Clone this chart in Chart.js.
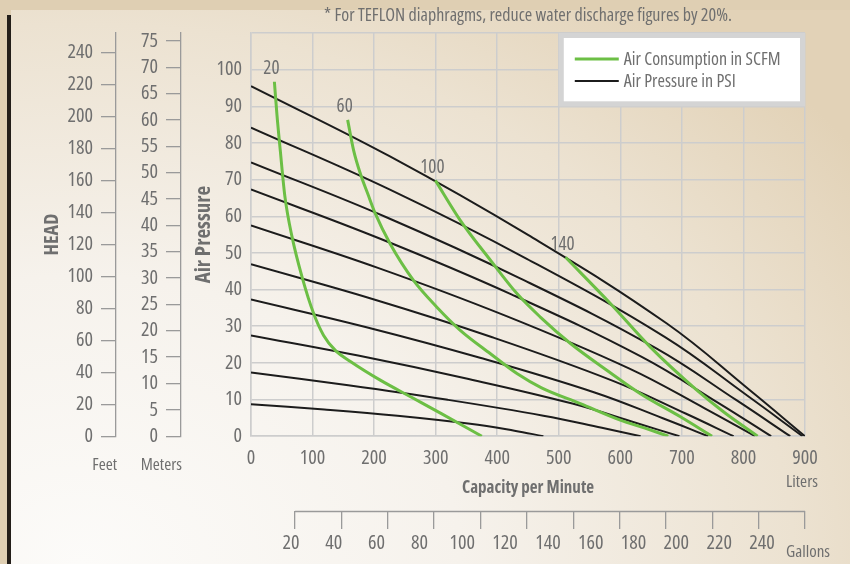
<!DOCTYPE html>
<html>
<head>
<meta charset="utf-8">
<script src="https://cdn.jsdelivr.net/npm/chart.js@4.4.1/dist/chart.umd.min.js"></script>
<style>
  html, body { margin: 0; padding: 0; }
  body { width: 850px; height: 564px; overflow: hidden; position: relative; background: #dfcfb3; }
  #panel {
    position: absolute; left: 11px; top: 10px; right: 0; bottom: 0;
    background: radial-gradient(950px 720px at 70px 554px, #fcfbf9 0%, #f6f2ec 40%, #ece2d1 75%, #e2d2b7 100%);
  }
  #bar { position: absolute; left: 7px; top: 15px; width: 4px; bottom: 0; background: #231e19; }
  canvas { position: absolute; left: 0; top: 0; }
</style>
</head>
<body>
<div id="panel"></div>
<div id="bar"></div>
<canvas id="pumpChart" width="850" height="564"></canvas>
<script>
// Air pressure lines: [liters per minute, psi]
const psi100 = [[0, 95.5], [225, 76.4], [450, 54.9], [675, 30.8], [810, 12.6], [900, 0]];
const psi90 = [[0, 84.2], [224, 67.4], [448, 48.4], [672, 27.1], [806, 11.1], [896, 0]];
const psi80 = [[0, 74.7], [219, 59.8], [438, 43.0], [657, 24.1], [788, 9.9], [876, 0]];
const psi70 = [[0, 67.3], [211, 53.8], [423, 38.7], [634, 21.7], [761, 8.9], [845, 0]];
const psi60 = [[0, 57.5], [205, 46.0], [410, 33.1], [614, 18.5], [737, 7.6], [819, 0]];
const psi50 = [[0, 46.9], [196, 37.5], [392, 27.0], [588, 15.1], [706, 6.2], [784, 0]];
const psi40 = [[0, 37.3], [186, 29.8], [372, 21.4], [557, 12.0], [669, 4.9], [743, 0]];
const psi30 = [[0, 27.5], [174, 22.0], [348, 15.8], [522, 8.9], [626, 3.6], [696, 0]];
const psi20 = [[0, 17.4], [158, 13.9], [317, 10.0], [475, 5.6], [570, 2.3], [633, 0]];
const psi10 = [[0, 8.7], [119, 7.3], [238, 5.6], [356, 3.4], [428, 1.5], [475, 0]];

// Air consumption curves (SCFM): [liters per minute, psi]
const scfm20 = [[38, 96.7], [42, 88], [47.6, 77.9], [55, 65.5], [66.8, 54.3], [83, 43.4], [101.9, 33.4],
  [118, 27.5], [137, 23.4], [161.5, 20.4], [210, 15.3], [260, 10.7], [310, 6.1], [375, 0]];
const scfm60 = [[157, 86.3], [166.8, 77.9], [177.7, 71.6], [190, 66], [202, 60.7], [226, 52.5], [264, 42.5],
  [302, 35.2], [340, 28.9], [389, 22.5], [432, 17.1], [472, 13.2], [535, 8.9], [600, 4.4], [640, 2.2], [678, 0]];
const scfm100 = [[299.5, 69.8], [340, 58.9], [389, 48], [432, 38.9], [470, 32.5], [519, 25.3], [578, 18],
  [632.6, 11.6], [697.6, 5.3], [749, 0]];
const scfm140 = [[511, 48.8], [583.8, 36.2], [648.8, 24.3], [724.7, 12.5], [768, 6.6], [823, 0]];
const scfmLabels = ['20', '60', '100', '140'];

// Tick values for the extra axes
const feetTicks = [0, 20, 40, 60, 80, 100, 120, 140, 160, 180, 200, 220, 240];
const meterTicks = [0, 5, 10, 15, 20, 25, 30, 35, 40, 45, 50, 55, 60, 65, 70, 75];
const gallonTicks = [20, 40, 60, 80, 100, 120, 140, 160, 180, 200, 220, 240];

const green = '#6cbf45';
const black = '#1c1c1c';
const gridColor = '#cdcdcd';
const axisGrey = '#9a9a9a';
const textGrey = '#6f6f6f';

// pick the narrowest-looking installed sans (the original uses a condensed face)
const probe = document.createElement('canvas').getContext('2d');
function measure(font) {
  probe.font = '10px monospace';
  probe.font = font;
  if (probe.font.indexOf('17px') < 0) return null;
  return probe.measureText('Air Consumption in SCFM').width;
}
const candidates = [
  ["'Liberation Sans Narrow'", ''],
  ["'Arial Narrow'", ''],
  ["'Noto Sans'", 'condensed'],
  ["'Noto Sans Condensed'", ''],
  ["'Open Sans'", 'condensed'],
  ["'DejaVu Sans Condensed'", '']
];
let pick = candidates[candidates.length - 1];
let best = Infinity;
candidates.forEach(([fam, stretch]) => {
  const s = stretch ? stretch + ' ' : '';
  const w = measure(s + '17px ' + fam + ', monospace');
  const base = measure(s + '17px monospace');
  if (w === null || base === null || Math.abs(w - base) < 0.5) return;
  const err = Math.abs(w - 159);
  if (err < best) { best = err; pick = [fam, stretch]; }
});
const family = pick[0] + ', sans-serif';
const stretch = pick[1];
const wNormal = stretch || 'normal';
const wBold = stretch ? 'bold ' + stretch : 'bold';
const cssFont = size => (stretch ? stretch + ' ' : '') + size + 'px ' + family;

Chart.defaults.font.family = family;
Chart.defaults.font.weight = wNormal;
Chart.defaults.color = textGrey;

const toXY = pts => pts.map(([x, y]) => ({ x, y }));
const airCurves = [scfm20, scfm60, scfm100, scfm140];
const pressureLines = [psi100, psi90, psi80, psi70, psi60, psi50, psi40, psi30, psi20, psi10];

const datasets = [
  ...airCurves.map((pts, i) => ({
    label: 'Air Consumption in SCFM',
    tag: scfmLabels[i],
    data: toXY(pts),
    borderColor: green,
    borderWidth: 3,
    pointRadius: 0,
    cubicInterpolationMode: 'monotone'
  })),
  ...pressureLines.map(pts => ({
    label: 'Air Pressure in PSI',
    data: toXY(pts),
    borderColor: black,
    borderWidth: 2,
    pointRadius: 0,
    tension: 0.4
  }))
];

const setTicks = values => scale => { scale.ticks = values.map(v => ({ value: v })); };

// legend box, curve labels and unit captions
const overlay = {
  id: 'overlay',
  afterDraw(chart) {
    const { ctx, chartArea, scales } = chart;
    const x = scales.x, y = scales.y;
    ctx.save();

    // gallons axis line
    const g = scales.galTicks;
    ctx.strokeStyle = axisGrey;
    ctx.lineWidth = 1.3;
    ctx.beginPath();
    ctx.moveTo(g.getPixelForValue(gallonTicks[0]), g.top + 0.5);
    ctx.lineTo(g.getPixelForValue(gallonTicks[gallonTicks.length - 1]), g.top + 0.5);
    ctx.stroke();

    // legend
    const l = x.getPixelForValue(500), t = chartArea.top;
    const r = chartArea.right, b = y.getPixelForValue(90);
    ctx.fillStyle = '#d4d4d4';
    ctx.fillRect(l, t, r - l, b - t);
    ctx.fillStyle = '#ffffff';
    ctx.fillRect(l + 5, t + 5, r - l - 10, b - t - 10);
    const rows = [[green, 3, datasets[0].label], [black, 2, datasets[airCurves.length].label]];
    ctx.font = cssFont(18);
    ctx.textBaseline = 'middle';
    ctx.textAlign = 'left';
    rows.forEach(([color, w, text], i) => {
      const ry = t + 26 + i * 22;
      ctx.strokeStyle = color;
      ctx.lineWidth = w;
      ctx.beginPath();
      ctx.moveTo(l + 16, ry);
      ctx.lineTo(l + 60, ry);
      ctx.stroke();
      ctx.fillStyle = textGrey;
      ctx.fillText(text, l + 65, ry + 1);
    });

    // SCFM labels above each green curve
    ctx.font = cssFont(19);
    ctx.textAlign = 'center';
    chart.data.datasets.forEach((ds, i) => {
      if (!ds.tag) return;
      const p = chart.getDatasetMeta(i).data[0];
      ctx.fillText(ds.tag, p.x - 3, p.y - 13);
    });

    // unit captions
    ctx.font = cssFont(17);
    ctx.textAlign = 'right';
    ctx.fillText('Feet', scales.feet.right + 1, 465);
    ctx.fillText('Meters', scales.meters.right + 1, 465);
    ctx.textAlign = 'center';
    ctx.fillText('Liters', x.getPixelForValue(900) - 3, 482);
    ctx.fillText('Gallons', x.getPixelForValue(900) + 3, 552);
    ctx.restore();
  }
};

new Chart(document.getElementById('pumpChart'), {
  type: 'line',
  data: { datasets },
  options: {
    responsive: false,
    animation: false,
    layout: { padding: { left: 30, right: 45, top: 0, bottom: 7 } },
    plugins: {
      legend: { display: false },
      tooltip: { enabled: false },
      title: {
        display: true,
        fullSize: false,
        text: '* For TEFLON diaphragms, reduce water discharge figures by 20%.',
        color: textGrey,
        font: { size: 18, weight: wNormal },
        padding: { top: 5.2, bottom: 6.2 }
      }
    },
    scales: {
      x: {
        type: 'linear', min: 0, max: 900, weight: 0,
        ticks: { stepSize: 100, padding: 10, font: { size: 20 } },
        grid: { color: gridColor, lineWidth: 1.5, drawTicks: false },
        border: { color: gridColor, width: 1.5 },
        title: {
          display: true, text: 'Capacity per Minute', color: textGrey,
          font: { size: 17, weight: wBold }, padding: { top: -2.2, bottom: 12.6 }
        }
      },
      galTicks: {
        type: 'linear', position: 'bottom', weight: 1, min: 1, max: 240,
        afterBuildTicks: setTicks(gallonTicks),
        ticks: { display: false },
        grid: { display: true, drawOnChartArea: false, drawTicks: true, tickLength: 18, color: axisGrey, lineWidth: 1.3 },
        border: { display: false }
      },
      galLabels: {
        type: 'linear', position: 'bottom', weight: 2, min: 1.32, max: 260.1,
        afterBuildTicks: setTicks(gallonTicks),
        ticks: { autoSkip: false, maxRotation: 0, padding: 2, font: { size: 20 } },
        grid: { display: false, drawTicks: false },
        border: { display: false }
      },
      y: {
        type: 'linear', position: 'left', min: 0, max: 110, weight: 0,
        afterFit: s => { s.width = 70; },
        ticks: { stepSize: 10, padding: 9, autoSkip: false, font: { size: 20 }, callback: v => (v > 100 ? '' : v) },
        grid: { color: gridColor, lineWidth: 1.5, drawTicks: false },
        border: { color: gridColor, width: 1.5 },
        title: {
          display: true, text: 'Air Pressure', color: textGrey,
          font: { size: 21, weight: wBold }, padding: { top: 10.4, bottom: 0 }
        }
      },
      meters: {
        type: 'linear', position: 'left', weight: 1, min: 0, max: 76.5,
        afterFit: s => { s.width = 65; },
        afterBuildTicks: setTicks(meterTicks),
        ticks: { padding: 8, autoSkip: false, font: { size: 20 } },
        grid: { drawOnChartArea: false, tickLength: 15, color: axisGrey, lineWidth: 1.3 },
        border: { color: axisGrey, width: 1.3 }
      },
      feet: {
        type: 'linear', position: 'left', weight: 2, min: 0, max: 252,
        afterFit: s => { s.width = 86; },
        afterBuildTicks: setTicks(feetTicks),
        ticks: { padding: 8, autoSkip: false, font: { size: 20 } },
        grid: { drawOnChartArea: false, tickLength: 15, color: axisGrey, lineWidth: 1.3 },
        border: { color: axisGrey, width: 1.3 },
        title: {
          display: true, text: 'HEAD', color: textGrey,
          font: { size: 20, weight: wBold }, padding: { top: 10, bottom: 0 }
        }
      }
    }
  },
  plugins: [overlay]
});
</script>
</body>
</html>
